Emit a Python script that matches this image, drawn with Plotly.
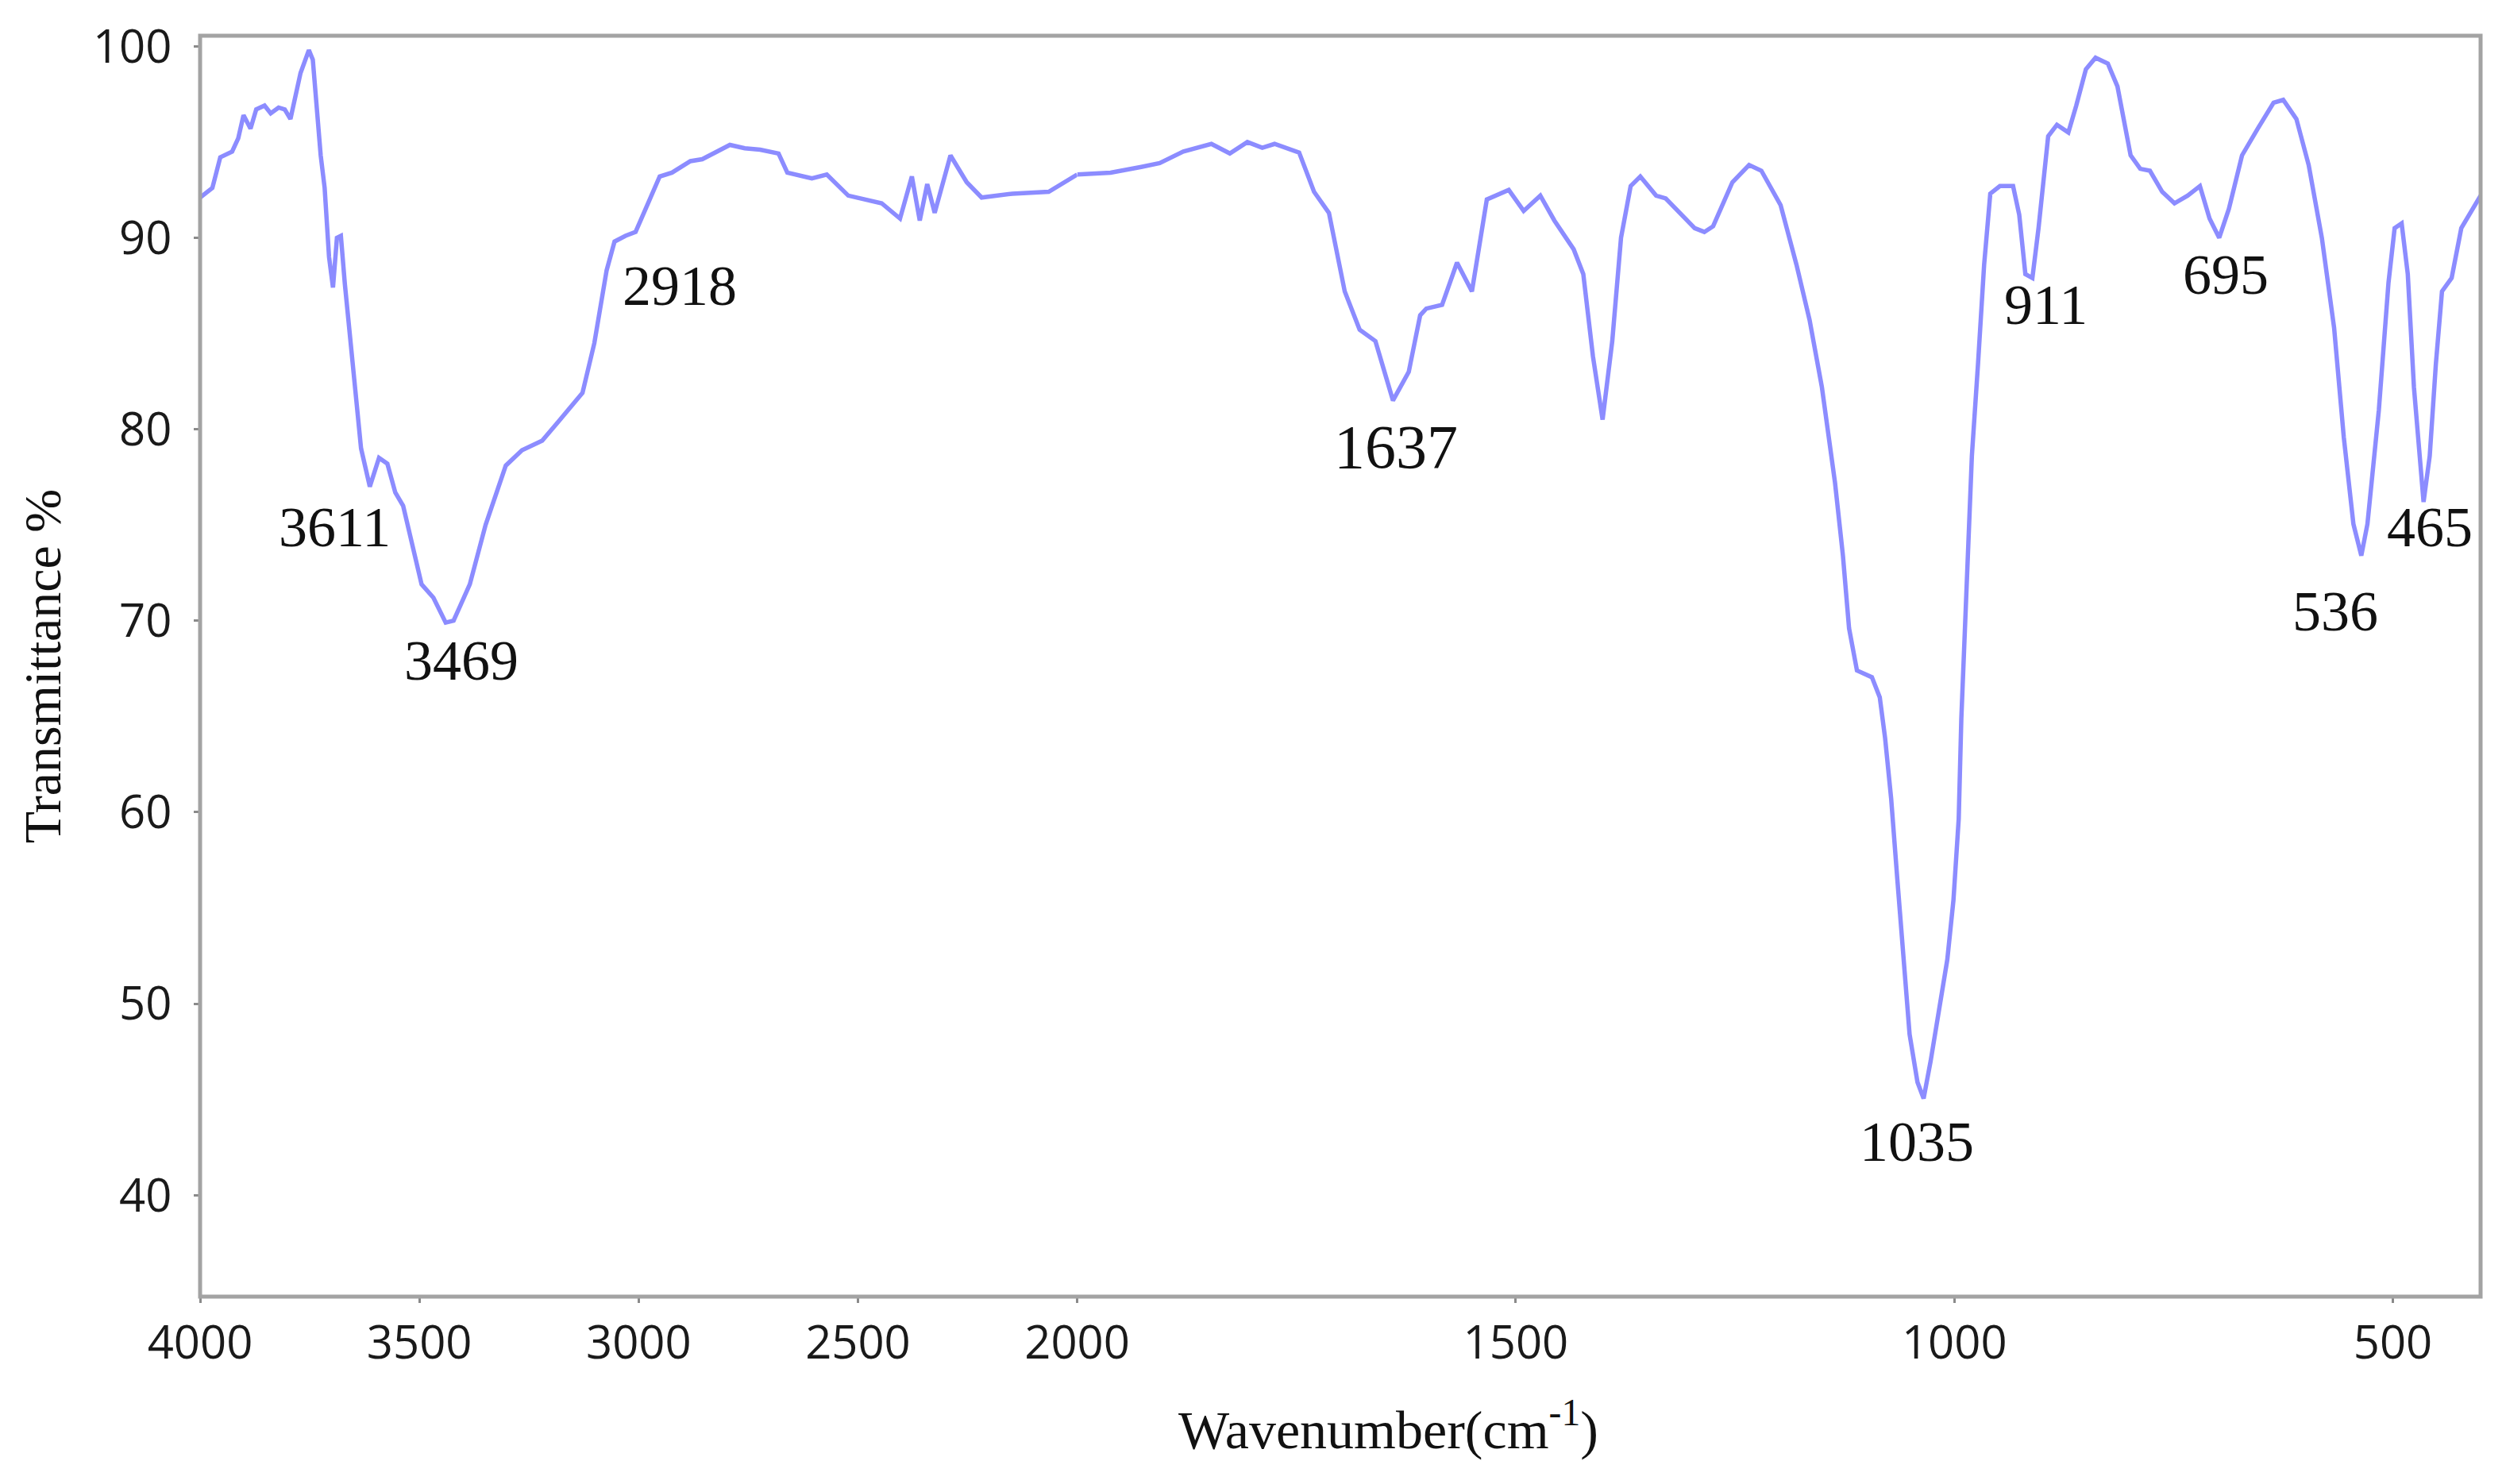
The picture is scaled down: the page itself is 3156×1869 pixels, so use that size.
import numpy as np
import plotly.graph_objects as go

# FTIR spectrum (wavenumber cm-1, transmittance %)
wavenumber = [
    4000, 3972, 3954, 3927, 3913, 3901, 3885, 3872, 3853, 3839, 3821, 3807, 3794,
    3771, 3752, 3743, 3725, 3716, 3706, 3697, 3688, 3679, 3670, 3651, 3633, 3613,
    3592, 3573, 3555, 3537, 3495, 3468, 3440, 3422, 3385, 3349, 3303, 3266, 3220,
    3183, 3128, 3101, 3073, 3055, 3030, 3007, 2952, 2924, 2882, 2855, 2827, 2792,
    2758, 2723, 2681, 2661, 2605, 2571, 2522, 2446, 2404, 2377, 2359, 2342, 2325,
    2289, 2252, 2218, 2148, 2065, 2000,
    1962, 1927, 1906, 1879, 1847, 1826, 1806, 1789, 1775, 1747, 1730, 1713, 1695,
    1678, 1660, 1640, 1622, 1609, 1602, 1584, 1567, 1550, 1533, 1508, 1491, 1472,
    1456, 1434, 1423, 1412, 1401, 1390, 1380, 1369, 1358, 1340, 1329, 1296, 1285,
    1275, 1253, 1234, 1220, 1198, 1180, 1165, 1151, 1136, 1127, 1120, 1111, 1094,
    1085, 1079, 1072, 1065, 1058, 1051, 1042, 1035, 1027, 1016, 1008, 1001, 995,
    992, 987, 980, 973, 966, 959, 948, 933, 926, 919, 911, 904, 893, 883, 870,
    861, 850, 839, 825, 814, 799, 788, 777, 763, 749, 734, 720, 709, 698, 687,
    672, 654, 636, 625, 610, 596, 581, 567, 556, 545, 536, 529, 516, 505, 498,
    490, 483, 476, 465, 458, 451, 444, 433, 422, 400,
]
transmittance = [
    92.1, 92.6, 94.2, 94.5, 95.2, 96.4, 95.7, 96.7, 96.9, 96.5, 96.8, 96.7, 96.2,
    98.6, 99.8, 99.3, 94.3, 92.6, 89.0, 87.4, 90.0, 90.1, 87.6, 83.3, 79.0, 77.0,
    78.5, 78.2, 76.7, 76.0, 71.9, 71.2, 69.9, 70.0, 71.9, 75.0, 78.1, 78.9, 79.4,
    80.4, 81.9, 84.5, 88.3, 89.8, 90.1, 90.3, 93.2, 93.4, 94.0, 94.1, 94.45, 94.85,
    94.67, 94.6, 94.4, 93.4, 93.1, 93.3, 92.2, 91.8, 91.0, 93.2, 90.9, 92.8, 91.3,
    94.3, 92.9, 92.1, 92.3, 92.4, 93.3,
    93.4, 93.7, 93.9, 94.5, 94.9, 94.4, 95.0, 94.7, 94.9, 94.45, 92.4, 91.3, 87.2,
    85.2, 84.6, 81.5, 83.0, 85.95, 86.3, 86.5, 88.7, 87.2, 92.0, 92.5, 91.4, 92.2,
    90.9, 89.4, 88.1, 83.8, 80.5, 84.6, 90.0, 92.7, 93.2, 92.2, 92.05, 90.5, 90.3,
    90.6, 92.9, 93.8, 93.5, 91.7, 88.6, 85.7, 82.2, 77.2, 73.4, 69.6, 67.4, 67.05,
    66.0, 63.9, 60.7, 56.5, 52.3, 48.4, 45.9, 45.05, 47.0, 50.1, 52.3, 55.4, 59.65,
    64.9, 70.9, 78.6, 83.4, 88.6, 92.3, 92.7, 92.7, 91.2, 88.1, 87.9, 90.5, 95.3, 95.9, 95.5,
    96.9, 98.8, 99.4, 99.1, 97.9, 94.3, 93.6, 93.5, 92.4, 91.8, 92.2, 92.7, 91.0, 90.0, 91.5,
    94.3, 95.7, 97.05, 97.2, 96.2, 93.8, 90.0, 85.3, 79.6, 75.05, 73.4, 75.05, 81.0, 87.65, 90.5,
    90.75, 88.1, 82.2, 76.2, 78.6, 83.4, 87.2, 87.9, 90.5, 92.2,
]

peak_labels = ["3611", "3469", "2918", "1637", "1035", "911", "695", "536", "465"]
x_ticks_high = [4000, 3500, 3000, 2500, 2000]
x_ticks_low = [1500, 1000, 500]
y_ticks = [40, 50, 60, 70, 80, 90, 100]

# label placement (wavenumber, transmittance) next to each band
label_pos = {
    "3611": (3694, 74.9), "3469": (3404, 67.9), "2918": (2907, 87.5),
    "1637": (1637, 79.1), "1035": (1043, 42.8), "911": (896, 86.5),
    "695": (691, 88.05), "536": (566, 70.5), "465": (458, 74.9),
}

wn = np.array(wavenumber)
tr = np.array(transmittance)
hi = wn >= 2000
lo = wn <= 2000

line_color = "rgb(140,140,255)"
frame_color = "#a3a3a3"
tick_font = dict(family="Open Sans", size=58, color="#1a1a1a")
serif = "Liberation Serif"
split = 1000 / 2600  # scale doubles below 2000 cm-1

fig = go.Figure()
fig.add_trace(go.Scatter(x=wn[hi], y=tr[hi], mode="lines", xaxis="x", yaxis="y",
                         line=dict(color=line_color, width=5.5), showlegend=False))
fig.add_trace(go.Scatter(x=wn[lo], y=tr[lo], mode="lines", xaxis="x2", yaxis="y",
                         line=dict(color=line_color, width=5.5), showlegend=False))

axis_common = dict(
    showgrid=False, zeroline=False, showline=False, automargin=False,
    ticks="outside", ticklen=7, tickwidth=3, tickcolor="#8a8a8a",
    tickfont=tick_font,
)
# page body has an 8px margin, so the figure is sized to fit inside the window
fig.update_layout(
    width=3140, height=1853,
    margin=dict(l=244, r=24, t=37, b=228),
    paper_bgcolor="white", plot_bgcolor="white",
    xaxis=dict(domain=[0, split], range=[4000, 2000], tickvals=x_ticks_high,
               anchor="y", **axis_common),
    xaxis2=dict(domain=[split, 1], range=[2000, 400], tickvals=x_ticks_low,
                anchor="y", **axis_common),
    yaxis=dict(range=[34.7, 100.55], tickvals=y_ticks, anchor="x",
               ticklabelstandoff=16,
               title=dict(text="Transmittance %", standoff=18,
                          font=dict(family=serif, size=66, color="#111")),
               **axis_common),
    shapes=[dict(type="rect", xref="paper", yref="paper", x0=0, x1=1, y0=0, y1=1,
                 line=dict(color=frame_color, width=5))],
)

for name in peak_labels:
    wx, ty = label_pos[name]
    fig.add_annotation(
        x=wx, y=ty, xref="x" if wx >= 2000 else "x2", yref="y",
        text=name, showarrow=False,
        font=dict(family=serif, size=78 if name == "1637" else 72, color="#111"),
    )

fig.add_annotation(
    x=0.521, y=-0.1026, xref="paper", yref="paper", yanchor="middle",
    text="Wavenumber(cm<sup>-1</sup>)", showarrow=False,
    font=dict(family=serif, size=68, color="#111"),
)

fig.write_html("out.html")
